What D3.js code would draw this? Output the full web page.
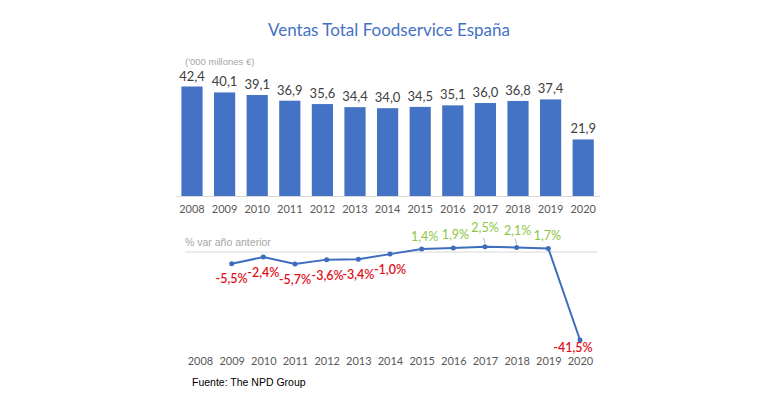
<!DOCTYPE html>
<html><head><meta charset="utf-8">
<script src="https://cdn.jsdelivr.net/npm/d3@7"></script>
<style>body{margin:0;background:#fff}svg{display:block}</style>
</head><body>
<svg id="c" width="770" height="401"></svg>
<script>
const years = ["2008","2009","2010","2011","2012","2013","2014","2015","2016","2017","2018","2019","2020"];
const sales = [42.4,40.1,39.1,36.9,35.6,34.4,34.0,34.5,35.1,36.0,36.8,37.4,21.9];
const varYears = ["2009","2010","2011","2012","2013","2014","2015","2016","2017","2018","2019","2020"];
const variation = [-5.5,-2.4,-5.7,-3.6,-3.4,-1.0,1.4,1.9,2.5,2.1,1.7,-41.5];

const fmt = v => v.toFixed(1).replace(".", ",");
const svg = d3.select("#c");
const font = "Lato, 'Open Sans', sans-serif";

svg.append("text").attr("x",389).attr("y",36).attr("text-anchor","middle")
  .attr("font-family",font).attr("font-size",17).attr("fill","#4472C4")
  .text("Ventas Total Foodservice España");

// Bar chart
const x = d3.scaleBand().domain(years).range([175.7,599.5]).paddingInner(0.35).paddingOuter(0.175);
const y = d3.scaleLinear().domain([0,42.4]).range([196,86.5]);

svg.append("text").attr("x",185).attr("y",65).attr("font-family","'Liberation Sans', Arial, sans-serif")
  .attr("font-size",9.5).attr("fill","#A6A6A6").text("('000 millones €)");

svg.selectAll("rect.bar").data(sales).join("rect").attr("class","bar")
  .attr("x",(d,i)=>x(years[i])).attr("width",x.bandwidth())
  .attr("y",d=>y(d)).attr("height",d=>y(0)-y(d)).attr("fill","#4472C4");

svg.selectAll("text.val").data(sales).join("text").attr("class","val")
  .attr("x",(d,i)=>x(years[i])+x.bandwidth()/2).attr("y",d=>y(d)-6)
  .attr("text-anchor","middle").attr("font-family",font).attr("font-size",13).attr("fill","#404040")
  .text(fmt);

const xAxis = svg.append("g").attr("transform","translate(0,196)")
  .call(d3.axisBottom(x).tickSize(0).tickPadding(9));
xAxis.select(".domain").attr("stroke","#D9D9D9").attr("stroke-width",1);
xAxis.selectAll("text").attr("font-family",font).attr("font-size",11).attr("fill","#595959");

// Line chart
const x2 = d3.scalePoint().domain(years).range([200,580]);
const y2 = d3.scaleLinear().domain([0,-41.5]).range([252,340]);

svg.append("line").attr("x1",185).attr("x2",597).attr("y1",y2(0)).attr("y2",y2(0))
  .attr("stroke","#D9D9D9").attr("stroke-width",1);
svg.append("text").attr("x",185).attr("y",246).attr("font-family","'Liberation Sans', Arial, sans-serif")
  .attr("font-size",10.5).attr("fill","#A6A6A6").text("% var año anterior");

const line = d3.line().x((d,i)=>x2(varYears[i])).y(d=>y2(d));
svg.append("path").datum(variation).attr("d",line).attr("fill","none")
  .attr("stroke","#3E6DBE").attr("stroke-width",2);
svg.selectAll("circle.pt").data(variation).join("circle").attr("class","pt")
  .attr("cx",(d,i)=>x2(varYears[i])).attr("cy",d=>y2(d)).attr("r",2.5).attr("fill","#3E6DBE");

// label offsets (dx, dy from point)
const offs = {"2009":[0,19],"2010":[0,20],"2011":[0,20],"2012":[1,20],"2013":[0,20],"2014":[0,20],
  "2015":[3,-8],"2016":[2,-9],"2017":[0,-15],"2018":[1,-13],"2019":[-1,-8],"2020":[-7,12]};
const lead = {"2017":true,"2018":true};
svg.selectAll("line.lead").data(varYears.filter(d=>lead[d])).join("line").attr("class","lead")
  .attr("x1",d=>x2(d)).attr("x2",d=>x2(d)-1.5)
  .attr("y1",d=>y2(variation[varYears.indexOf(d)])-3).attr("y2",d=>y2(variation[varYears.indexOf(d)])-13+4)
  .attr("stroke","#A6A6A6").attr("stroke-width",0.8);
svg.selectAll("text.pct").data(variation).join("text").attr("class","pct")
  .attr("x",(d,i)=>x2(varYears[i])+offs[varYears[i]][0])
  .attr("y",(d,i)=>y2(d)+offs[varYears[i]][1])
  .attr("text-anchor","middle").attr("font-family",font).attr("font-size",12.5)
  .attr("font-weight",d=>d<0?"600":"normal")
  .attr("fill",d=>d<0?"#E0101A":"#8CC63F")
  .text(d=>fmt(d)+"%");

const xAxis2 = svg.append("g").attr("transform","translate(0,354)")
  .call(d3.axisBottom(x2).tickSize(0).tickPadding(3));
xAxis2.select(".domain").remove();
xAxis2.selectAll("text").attr("font-family",font).attr("font-size",11).attr("fill","#595959");

svg.append("text").attr("x",192).attr("y",386).attr("font-family","'Liberation Sans', Arial, sans-serif")
  .attr("font-size",10.5).attr("fill","#000").text("Fuente: The NPD Group");
</script>
</body></html>
